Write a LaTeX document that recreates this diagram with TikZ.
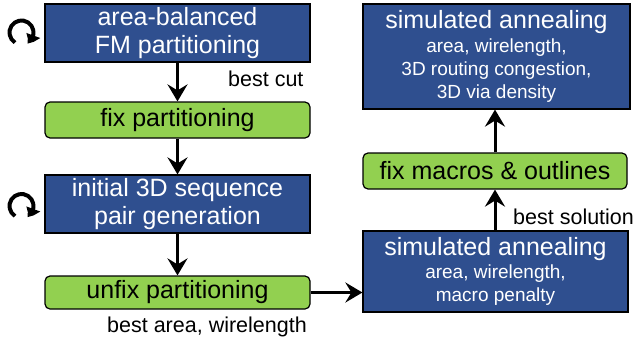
\documentclass[tikz,border=0pt]{standalone}
\usepackage{fontspec}
\setmainfont{Liberation Sans}
\usetikzlibrary{arrows.meta, bending}
\definecolor{stepblue}{RGB}{47,79,143}
\definecolor{stepgreen}{RGB}{146,208,80}
\tikzset{
  bluebox/.style={draw=black, line width=1.2pt, fill=stepblue, text=white,
    align=center, inner sep=0pt},
  greenbox/.style={draw=black, line width=1.2pt, fill=stepgreen, text=black,
    rounded corners=5pt, align=center, inner sep=0pt},
  flow/.style={line width=3pt, -{Stealth[length=17pt, width=20pt, inset=6pt]}},
  note/.style={anchor=base west, inner sep=0pt, font=\fontsize{21.5}{24}\selectfont},
  loopmark/.style={line width=4pt, -{Triangle[length=10pt, width=14pt, bend]}},
  big/.style={font=\fontsize{25}{28}\selectfont},
  small/.style={font=\fontsize{19}{23}\selectfont}
}
\newcommand\bigline[1]{{\fontsize{25}{28}\selectfont #1}}
\begin{document}
\begin{tikzpicture}[x=1pt, y=-1pt]
\useasboundingbox (0,0) rectangle (642,343);

% left column
\node[bluebox, big, minimum width=265pt, minimum height=58pt] (fm) at (177.5,33)
  {area-balanced\\FM partitioning};
\node[greenbox, big, minimum width=265pt, minimum height=36pt] (fix) at (177.5,120)
  {fix partitioning};
\node[bluebox, big, minimum width=265pt, minimum height=58pt] (sp) at (177.5,204)
  {initial 3D sequence\\pair generation};
\node[greenbox, big, minimum width=265pt, minimum height=33pt] (unfix) at (177.5,292.5)
  {unfix partitioning};

% right column
\node[bluebox, small, minimum width=267pt, minimum height=105pt] (sa2) at (496.5,56.5)
  {\bigline{simulated annealing}\\[1pt]
   area, wirelength,\\3D routing congestion,\\3D via density};
\node[greenbox, big, minimum width=264pt, minimum height=36pt] (macro) at (495,171)
  {fix macros \& outlines};
\node[bluebox, small, minimum width=265pt, minimum height=81pt] (sa1) at (495.5,271.5)
  {\bigline{simulated annealing}\\[0pt]
   area, wirelength,\\macro penalty};

% connectors
\draw[flow] (fm) -- (fix);
\draw[flow] (fix) -- (sp);
\draw[flow] (sp) -- (unfix);
\draw[flow] (unfix) -- (sa1.west |- unfix);
\draw[flow] (sa1.north -| macro) -- (macro);
\draw[flow] (macro) -- (sa2.south -| macro);

% edge labels
\node[note] (lcut) at (228,86) {best cut};
\node[note] (larea) at (107,332) {best area, wirelength};
\node[note] (lsol) at (513,224) {best solution};

% iteration marks: clockwise circular arrows, drawn with y pointing up
\foreach \cy in {32.5,206}{
  \begin{scope}[shift={(21.5,\cy)}, y=1pt]
    \draw[loopmark] (237:12) arc[start angle=237, end angle=-62, radius=12];
  \end{scope}
}
\end{tikzpicture}
\end{document}
